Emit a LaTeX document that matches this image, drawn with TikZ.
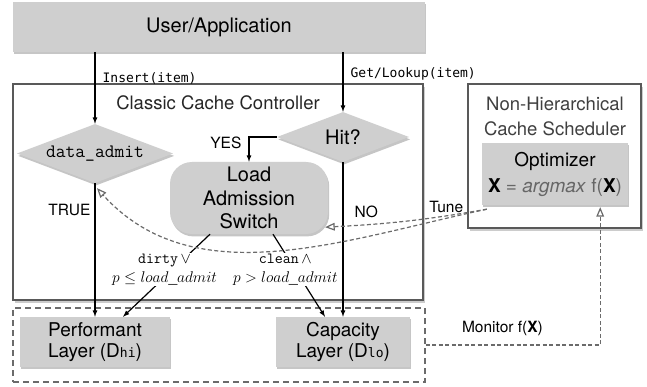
\RequirePackage{fix-cm}
\documentclass[tikz,border=0pt]{standalone}
\usepackage{fontspec}
\setmainfont{TeX Gyre Heros}
\newfontfamily\codefont{DejaVu Sans Mono}
\usepackage{tikz}
\usetikzlibrary{arrows,positioning,shapes.geometric,shadows}
\definecolor{boxgray}{gray}{0.81}
\definecolor{linegray}{gray}{0.42}
\definecolor{framegray}{gray}{0.35}
\tikzset{
    %Define standard arrow tip
    >=latex,
    %Define font sizes
    bigtxt/.style={font=\fontsize{20}{23.5}\selectfont},
    midtxt/.style={font=\fontsize{18.5}{25}\selectfont},
    labtxt/.style={font=\fontsize{15.5}{19}\selectfont, inner sep=1pt, text=black},
    codetxt/.style={font=\codefont\fontsize{13}{15}\selectfont, inner sep=1pt},
    %Define style for boxes
    block/.style={
           rectangle,
           fill=boxgray,
           drop shadow={shadow xshift=1.2pt,shadow yshift=-2.4pt,opacity=.45},
           align=center,
           inner sep=0pt},
    decision/.style={
           diamond,
           aspect=2.64,
           fill=boxgray,
           drop shadow={shadow xshift=1.2pt,shadow yshift=-2.4pt,opacity=.45},
           inner sep=0pt},
    ctrlbox/.style={
           rectangle,
           draw=framegray, line width=1.2pt,
           fill=white,
           drop shadow={shadow xshift=2pt,shadow yshift=-3pt,opacity=.4}},
    % Define arrow styles
    pil/.style={->, line width=1.2pt},
    tune/.style={-open triangle 45, linegray, line width=1.2pt,
           dash pattern=on 4pt off 2.5pt},
    split/.style={labtxt, fill=white, align=center}
}

\begin{document}
\begin{tikzpicture}[x=1pt,y=-1pt]
\useasboundingbox (0,0) rectangle (647,387);
% outer boxes
\node[ctrlbox, minimum width=410pt, minimum height=216pt](2) at (218,192){};
\node[ctrlbox, minimum width=173pt, minimum height=144pt](3) at (554.5,156){};
\node[draw=linegray, line width=1.2pt, dash pattern=on 6pt off 4pt,
      minimum width=412pt, minimum height=74pt](8) at (219,345){};
\node[midtxt, text=black!85](2t) at (218,103){Classic Cache Controller};
\node[midtxt, text=black!75, align=center](3t) at (555,116){Non-Hierarchical\\Cache Scheduler};

% gray blocks
\node[block, bigtxt, minimum width=412pt, minimum height=50pt](1) at (219,27){User/Application};
\node[decision, minimum width=156pt, minimum height=59pt,
      font=\ttfamily\fontsize{19}{19}\selectfont](4) at (95,153.5){data\_admit};
\node[decision, bigtxt, minimum width=132pt, minimum height=50pt](5) at (343,137){Hit?};
\node[block, bigtxt, rounded corners=22pt, minimum width=158pt, minimum height=72pt](6) at (249,198){Load\\Admission\\Switch};
\node[block, font=\fontsize{19}{26}\selectfont, minimum width=146pt, minimum height=62pt](7) at (555,174)
     {Optimizer\\\textbf{X} \textcolor{black!60}{= \textit{argmax} f(}\textbf{X}\textcolor{black!60}{)}};
\node[block, font=\fontsize{19}{21}\selectfont, minimum width=150pt, minimum height=50pt](9) at (95,342)
     {Performant\\Layer (D{\codefont\fontsize{13}{13}\selectfont hi})};
\node[block, font=\fontsize{19}{21}\selectfont, minimum width=134pt, minimum height=50pt](10) at (343,342)
     {Capacity\\Layer (D{\codefont\fontsize{13}{13}\selectfont lo})};

% requests and decisions
\draw[pil] (1.south -| 4.north) -- node[codetxt, pos=.36, right=6pt]{Insert(item)} (4.north);
\draw[pil] (1.south -| 5.north) -- node[codetxt, pos=.36, right=6pt]{Get/Lookup(item)} (5.north);
\draw[pil] (5.west) -| node[labtxt, pos=.5, anchor=east, xshift=-6pt, yshift=-6pt]{YES} (6.north);
\draw[pil] (5.south) -- node[labtxt, pos=.32, right=10pt]{NO} (10.north);
\draw[pil] (4.south) -- node[labtxt, pos=.2, left=3pt]{TRUE} (9.north);
\draw[pil] ([xshift=-39pt]6.south) -- node[split, pos=.43, xshift=-8pt]
     {\texttt{dirty}\,$\vee$\\$p\leq load\_admit$} ([xshift=28pt]9.north);
\draw[pil] ([xshift=24pt]6.south) -- node[split, pos=.43, xshift=-10pt]
     {\texttt{clean}\,$\wedge$\\$p>load\_admit$} ([xshift=-18pt]10.north);

% feedback from the scheduler
\draw[tune] ([xshift=5pt,yshift=-4pt]7.south west) to[out=192,in=-48,looseness=.95] ([xshift=2pt,yshift=-5pt]4.south);
\draw[tune] ([xshift=5pt,yshift=-4pt]7.south west) to[out=190,in=3]
     node[labtxt, pos=0, anchor=east, xshift=-22pt, yshift=2pt]{Tune} ([xshift=-3pt,yshift=7pt]6.south east);
\draw[tune] (8.east) -| node[labtxt, pos=.22, above=8pt]{Monitor f(\textbf{X})} ([xshift=-28pt,yshift=-2pt]7.south east);
\end{tikzpicture}
\end{document}
